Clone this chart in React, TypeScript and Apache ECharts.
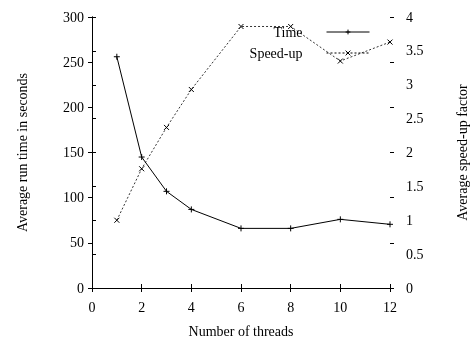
import React, { useEffect, useRef } from "react";
import * as echarts from "echarts";

const threads = [1, 2, 3, 4, 6, 8, 10, 12];
const runTime = [256, 145, 107, 87, 66, 66, 76, 70.5];
const speedUp = [1.0, 1.76, 2.37, 2.93, 3.86, 3.86, 3.35, 3.63];
const seriesNames = ["Time", "Speed-up"];
const xName = "Number of threads";
const yLeftName = "Average run time in seconds";
const yRightName = "Average speed-up factor";

const FONT = "Liberation Serif";
const PLUS = "path://M0,4L8,4M4,0L4,8";
const CROSS = "path://M0,0L8,8M8,0L0,8";

export default function App() {
  const ref = useRef<HTMLDivElement>(null);
  useEffect(() => {
    if (!ref.current) return;
    const chart = echarts.init(ref.current, undefined, {
      renderer: "svg",
      width: 470,
      height: 345,
    });
    const axisLine = { show: true, lineStyle: { color: "#000", width: 1 } };
    const axisTick = { show: true, inside: false, length: 4, lineStyle: { color: "#000" } };
    const label = { color: "#000", fontFamily: FONT, fontSize: 14 };
    chart.setOption({
      animation: false,
      textStyle: { fontFamily: FONT, color: "#000" },
      grid: {
        left: 92,
        right: 80,
        top: 17,
        bottom: 57,
        containLabel: false,
        outerBoundsMode: "none",
      },
      legend: {
        orient: "vertical",
        right: 95,
        top: 20,
        align: "right",
        itemWidth: 43,
        itemHeight: 6,
        itemGap: 7,
        lineStyle: { width: 1 },
        itemStyle: { borderWidth: 1 },
        textStyle: { ...label, padding: [0, 19, 0, 0] },
        data: seriesNames,
      },
      xAxis: [
        {
          type: "value",
          min: 0,
          max: 12,
          interval: 2,
          position: "bottom",
          name: xName,
          nameLocation: "middle",
          nameGap: 36,
          nameTextStyle: label,
          axisLine,
          axisTick,
          axisLabel: { ...label, margin: 12 },
          splitLine: { show: false },
        },
        {
          type: "value",
          min: 0,
          max: 12,
          interval: 2,
          position: "top",
          axisLine,
          axisTick,
          axisLabel: { show: false },
          splitLine: { show: false },
        },
      ],
      yAxis: [
        {
          type: "value",
          min: 0,
          max: 300,
          interval: 50,
          position: "left",
          name: yLeftName,
          nameLocation: "middle",
          nameGap: 63,
          nameTextStyle: label,
          axisLine,
          axisTick,
          axisLabel: { ...label, margin: 8 },
          splitLine: { show: false },
        },
        {
          type: "value",
          min: 0,
          max: 4,
          interval: 0.5,
          position: "right",
          name: yRightName,
          nameLocation: "middle",
          nameGap: 65,
          nameRotate: 90,
          nameTextStyle: label,
          axisLine,
          axisTick,
          axisLabel: { ...label, margin: 16 },
          splitLine: { show: false },
        },
        {
          type: "value",
          min: 0,
          max: 300,
          interval: 50,
          position: "right",
          axisLine: { show: false },
          axisTick,
          axisLabel: { show: false },
          splitLine: { show: false },
        },
      ],
      series: [
        {
          name: seriesNames[0],
          type: "line",
          xAxisIndex: 0,
          yAxisIndex: 0,
          data: threads.map((t, i) => [t, runTime[i]]),
          symbol: PLUS,
          symbolSize: 6,
          showAllSymbol: true,
          lineStyle: { color: "#000", width: 1 },
          itemStyle: { color: "none", borderColor: "#000", borderWidth: 1 },
        },
        {
          name: seriesNames[1],
          type: "line",
          xAxisIndex: 0,
          yAxisIndex: 1,
          data: threads.map((t, i) => [t, speedUp[i]]),
          symbol: CROSS,
          symbolSize: 5,
          showAllSymbol: true,
          lineStyle: { color: "#000", width: 0.8, type: [2, 2] },
          itemStyle: { color: "none", borderColor: "#000", borderWidth: 1 },
        },
      ],
    });
    return () => chart.dispose();
  }, []);
  return (
    <div
      ref={ref}
      style={{ position: "fixed", left: 0, top: 0, width: 470, height: 345 }}
    />
  );
}
